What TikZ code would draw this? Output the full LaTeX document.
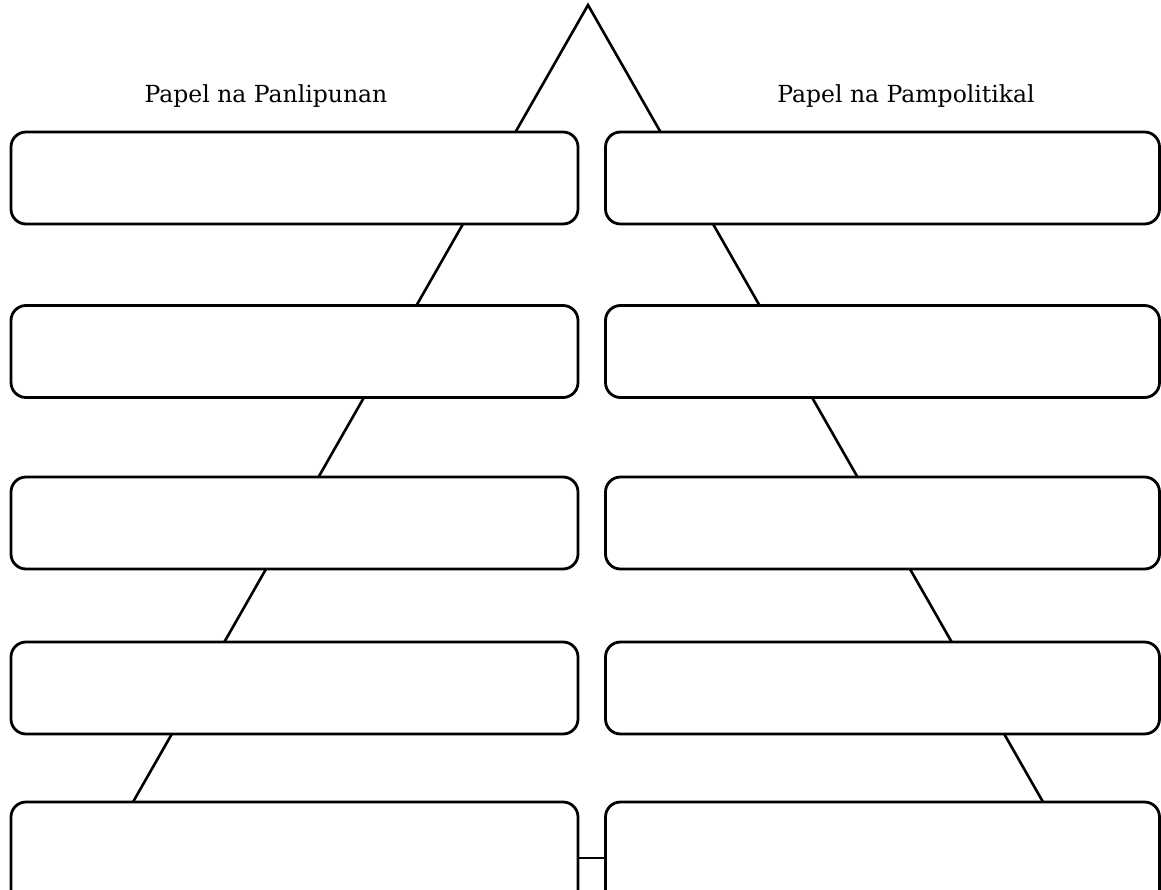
\documentclass[tikz,border=0pt]{standalone}
\usepackage{fontspec}
\setmainfont{DejaVu Serif}
\begin{document}
\begin{tikzpicture}[x=1pt,y=-1pt,
  box/.style={draw, line width=2.8pt, rounded corners=15pt, fill=white, inner sep=0pt},
  lbox/.style={box, minimum width=567pt, minimum height=92pt},
  rbox/.style={box, minimum width=554pt, minimum height=92pt},
  tri/.style={line width=2.6pt},
  lbl/.style={font=\fontsize{23.5}{28}\selectfont, inner sep=0pt}]
\useasboundingbox (0,0) rectangle (1161,890);
\coordinate (apex) at (588,5);
\coordinate (bl) at (133,802);
\coordinate (br) at (1043,802);
\draw[tri] (bl) -- (apex) -- (br);
\node[lbox] (L1) at (294.5,178) {};
\node[lbox] (L2) at (294.5,351.5) {};
\node[lbox] (L3) at (294.5,523) {};
\node[lbox] (L4) at (294.5,688) {};
\node[lbox, minimum height=104pt] (L5) at (294.5,854) {};
\node[rbox] (R1) at (882.5,178) {};
\node[rbox] (R2) at (882.5,351.5) {};
\node[rbox] (R3) at (882.5,523) {};
\node[rbox] (R4) at (882.5,688) {};
\node[rbox, minimum height=104pt] (R5) at (882.5,854) {};
\coordinate (cy) at (0,858);
\draw[tri] (L5.east |- cy) -- (R5.west |- cy);
\node[lbl, anchor=base] (tl) at (266,103) {Papel na Panlipunan};
\node[lbl, anchor=base] (tr) at (906,103) {Papel na Pampolitikal};
\end{tikzpicture}
\end{document}
